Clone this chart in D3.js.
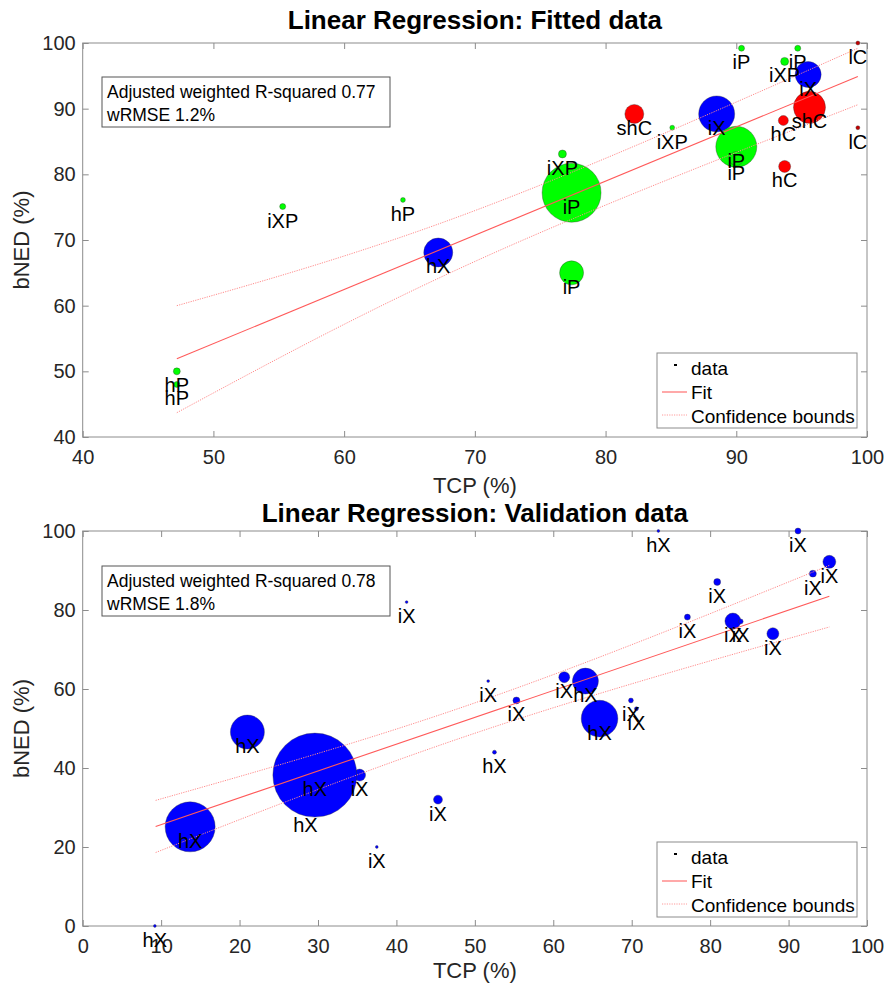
<!DOCTYPE html>
<html><head><meta charset="utf-8">
<script src="https://cdn.jsdelivr.net/npm/d3@7"></script>
<style>
body{margin:0;background:#fff}
text{font-family:"Liberation Sans",Arial,sans-serif}
</style></head>
<body><svg id="c" width="886" height="989"></svg>
<script>
// ---------- data: fitted panel ----------
const fitLabels = ["iXP","hP","hX","hP","hP","iP","iXP","iP","shC","iXP","iX","iP","iP","iP","iP","iXP","iX","shC","hC","hC","lC","lC"];
const fitTCP    = [55.3,64.5,67.2,47.2,47.2,77.4,76.7,77.4,82.2,85.1,88.5,90.0,90.0,90.4,94.7,93.7,95.5,95.6,93.6,93.7,99.3,99.3];
const fitBNED   = [75.1,76.1,68.1,50.0,48.0,77.2,83.1,65.0,89.2,87.1,89.2,84.2,82.4,99.2,99.2,97.2,95.2,90.2,88.2,81.2,100.0,87.1];
const fitWeight = [9,6,210,12,9,870,16,144,90,6,324,420,49,9,9,16,169,256,25,36,4,4];
const fitLineTCP = [47.2,99.3], fitLineBNED = [51.9,94.9];
const fitBoundTCP = [47.2,70.3,99.3], fitUpper = [60.0,74.7,99.2], fitLower = [43.7,67.0,90.6];
const fitXTicks = [40,50,60,70,80,90,100], fitYTicks = [40,50,60,70,80,90,100];

// ---------- data: validation panel ----------
const valLabels = ["hX","hX","hX","hX","iX","hX","iX","iX","iX","iX","hX","iX","iX","hX","hX","iX","iX","hX","iX","iX","iX","iX","iX","iX","iX","iX"];
const valTCP    = [9.2,13.7,21.0,28.4,35.3,29.6,37.5,41.3,45.3,51.7,52.5,55.3,61.4,64.1,65.9,69.9,70.6,73.4,77.1,80.9,82.9,83.9,88.0,91.2,93.1,95.2];
const valBNED   = [0.0,25.1,49.1,29.0,38.2,38.2,20.0,82.0,32.0,62.0,44.0,57.1,63.0,62.0,52.5,57.1,55.0,100.0,78.2,87.1,77.2,77.1,74.0,100.0,89.2,92.2];
const valWeight = [2,625,289,9,36,1764,2,2,20,2,4,12,30,169,335,6,4,2,9,12,64,6,36,9,12,42];
const valLineTCP = [9.3,95.2], valLineBNED = [25.2,83.5];
const valBoundTCP = [9.3,50.6,95.2], valUpper = [31.8,56.9,91.3], valLower = [18.6,49.2,75.7];
const valXTicks = [0,10,20,30,40,50,60,70,80,90,100], valYTicks = [0,20,40,60,80,100];

const legendItems = ["data","Fit","Confidence bounds"];

const svg = d3.select("#c");
const AX = "#8c8c8c", TXT = "#262626";
const rScale = d3.scaleSqrt().domain([0,1764]).range([0,42]);
function colorOf(l){
  if (l === "lC") return "#c00000";
  if (l.endsWith("P")) return "#00ff00";
  if (l.endsWith("X")) return "#0000ff";
  return "#ff0000";
}

function panel(o){
  const L = 82.7, R = 867, T = o.top, B = o.bottom;
  const x = d3.scaleLinear().domain(o.xd).range([L,R]);
  const y = d3.scaleLinear().domain(o.yd).range([B,T]);
  const g = svg.append("g");

  g.append("text").attr("x",(L+R)/2).attr("y",o.titleY).attr("text-anchor","middle")
    .attr("font-size",26).attr("font-weight","bold").attr("fill","#000").text(o.title);

  g.append("rect").attr("x",L).attr("y",T).attr("width",R-L).attr("height",B-T)
    .attr("fill","#fff").attr("stroke",AX).attr("stroke-width",1);

  const ax = [
    {a:d3.axisBottom(x).tickValues(o.xt).tickSize(-6).tickPadding(13), t:`translate(0,${B})`},
    {a:d3.axisTop(x).tickValues(o.xt).tickSize(-6).tickFormat(""), t:`translate(0,${T})`},
    {a:d3.axisLeft(y).tickValues(o.yt).tickSize(-6).tickPadding(7), t:`translate(${L},0)`},
    {a:d3.axisRight(y).tickValues(o.yt).tickSize(-6).tickFormat(""), t:`translate(${R},0)`}
  ];
  ax.forEach(d=>{
    const gg = g.append("g").attr("transform",d.t).call(d.a);
    gg.select(".domain").remove();
    gg.selectAll(".tick line").attr("stroke",AX);
    gg.selectAll(".tick text").attr("fill",TXT).attr("font-size",20)
      .attr("font-family",'"Liberation Sans",Arial,sans-serif');
  });

  g.append("text").attr("x",(L+R)/2).attr("y",o.xlabY).attr("text-anchor","middle")
    .attr("font-size",22).attr("fill",TXT).text("TCP (%)");
  g.append("text").attr("transform",`translate(29,${(T+B)/2}) rotate(-90)`).attr("text-anchor","middle")
    .attr("font-size",22).attr("fill",TXT).text("bNED (%)");

  g.append("rect").attr("x",102).attr("y",o.annY).attr("width",288).attr("height",50)
    .attr("fill","#fff").attr("stroke","#555").attr("stroke-width",1);
  g.append("text").attr("x",107).attr("y",o.annY+21).attr("font-size",17.5).attr("fill","#000").text(o.ann1);
  g.append("text").attr("x",107).attr("y",o.annY+44).attr("font-size",17.5).attr("fill","#000").text(o.ann2);

  const pts = o.labels.map((l,i)=>({l, x:o.tcp[i], y:o.bned[i], w:o.w[i]}));
  g.append("g").selectAll("circle").data(pts).join("circle")
    .attr("cx",d=>x(d.x)).attr("cy",d=>y(d.y)).attr("r",d=>rScale(d.w))
    .attr("fill",d=>colorOf(d.l)).attr("stroke","#333").attr("stroke-opacity",0.6).attr("stroke-width",0.6);

  const ln = d3.line().x(d=>x(d[0])).y(d=>y(d[1]));
  g.append("path").attr("d",ln(o.lineX.map((v,i)=>[v,o.lineY[i]])))
    .attr("fill","none").attr("stroke","#ff5a5a").attr("stroke-width",1.1);
  const lc = d3.line().x(d=>x(d[0])).y(d=>y(d[1])).curve(d3.curveNatural);
  [o.up,o.lo].forEach(arr=>{
    g.append("path").attr("d",lc(o.bx.map((v,i)=>[v,arr[i]])))
      .attr("fill","none").attr("stroke","#ff8c8c").attr("stroke-width",1).attr("stroke-dasharray","1.2,1.2");
  });

  g.append("g").selectAll("text").data(pts).join("text")
    .attr("x",d=>x(d.x)).attr("y",d=>y(d.y)+14).attr("dy","0.35em")
    .attr("text-anchor","middle").attr("font-size",20).attr("fill","#000").text(d=>d.l);

  const lgT = o.legY;
  const lg = g.append("g");
  lg.append("rect").attr("x",657).attr("y",lgT).attr("width",200).attr("height",75)
    .attr("fill","#fff").attr("stroke","#8c8c8c").attr("stroke-width",1);
  lg.append("rect").attr("x",674).attr("y",lgT+11).attr("width",3).attr("height",2).attr("fill","#000");
  lg.append("line").attr("x1",662).attr("x2",687).attr("y1",lgT+39).attr("y2",lgT+39)
    .attr("stroke","#ff8c8c").attr("stroke-width",1.5);
  lg.append("line").attr("x1",662).attr("x2",687).attr("y1",lgT+62).attr("y2",lgT+62)
    .attr("stroke","#ff9a9a").attr("stroke-width",1).attr("stroke-dasharray","1.2,1.2");
  legendItems.forEach((t,i)=>{
    lg.append("text").attr("x",691).attr("y",lgT+15+i*24).attr("dy","0.35em")
      .attr("font-size",19).attr("fill","#000").text(t);
  });
}

panel({top:43, bottom:437, xd:[40,100], yd:[40,100], xt:fitXTicks, yt:fitYTicks,
  title:"Linear Regression: Fitted data", titleY:29, xlabY:493,
  ann1:"Adjusted weighted R-squared 0.77", ann2:"wRMSE 1.2%", annY:77,
  labels:fitLabels, tcp:fitTCP, bned:fitBNED, w:fitWeight,
  lineX:fitLineTCP, lineY:fitLineBNED, bx:fitBoundTCP, up:fitUpper, lo:fitLower, legY:353});

panel({top:531, bottom:926, xd:[0,100], yd:[0,100], xt:valXTicks, yt:valYTicks,
  title:"Linear Regression: Validation data", titleY:522, xlabY:978,
  ann1:"Adjusted weighted R-squared 0.78", ann2:"wRMSE 1.8%", annY:566,
  labels:valLabels, tcp:valTCP, bned:valBNED, w:valWeight,
  lineX:valLineTCP, lineY:valLineBNED, bx:valBoundTCP, up:valUpper, lo:valLower, legY:842});
</script></body></html>
